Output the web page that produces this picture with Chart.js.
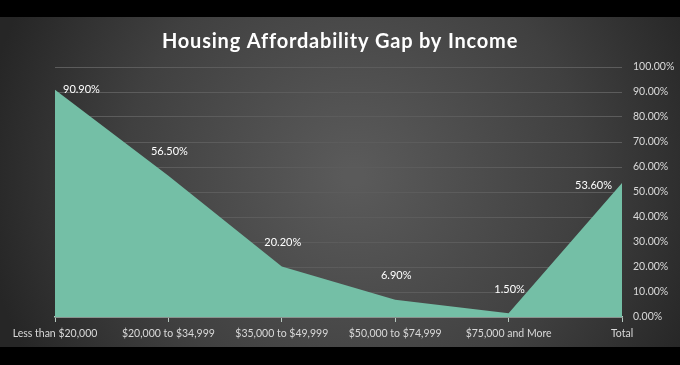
<!DOCTYPE html>
<html>
<head>
<meta charset="utf-8">
<script src="https://cdn.jsdelivr.net/npm/chart.js@4.4.1/dist/chart.umd.min.js"></script>
<style>
  html, body { margin: 0; padding: 0; background: #000; }
  #wrap { width: 680px; height: 365px; position: relative; }
</style>
</head>
<body>
<div id="wrap"><canvas id="c" width="680" height="365"></canvas></div>
<script>
const categories = ["Less than $20,000", "$20,000 to $34,999", "$35,000 to $49,999", "$50,000 to $74,999", "$75,000 and More", "Total"];
const gapValues = [90.9, 56.5, 20.2, 6.9, 1.5, 53.6];
const yTickMax = 100;
const yTickStep = 10;
const chartTitle = "Housing Affordability Gap by Income";

const bgPlugin = {
  id: 'bg',
  beforeDraw(chart) {
    const ctx = chart.ctx;
    const w = chart.width, h = chart.height;
    ctx.save();
    ctx.fillStyle = '#000';
    ctx.fillRect(0, 0, w, h);
    const g = ctx.createRadialGradient(w * 0.52, h * 0.48, 10, w * 0.52, h * 0.48, w * 0.55);
    g.addColorStop(0, '#5a5a5a');
    g.addColorStop(0.6, '#404040');
    g.addColorStop(1, '#262626');
    ctx.fillStyle = g;
    ctx.fillRect(0, 17, w, 330);
    // title
    ctx.font = 'bold 20px Lato, "Open Sans", sans-serif';
    ctx.fillStyle = '#ffffff';
    ctx.textBaseline = 'middle';
    ctx.textAlign = 'center';
    if ('letterSpacing' in ctx) ctx.letterSpacing = '0.8px';
    ctx.fillText(chartTitle, 340, 42);
    if ('letterSpacing' in ctx) ctx.letterSpacing = '0px';
    ctx.restore();
  }
};

const labelPlugin = {
  id: 'vlabels',
  afterDatasetsDraw(chart) {
    const ctx = chart.ctx;
    const meta = chart.getDatasetMeta(0);
    const n = meta.data.length;
    ctx.save();
    ctx.font = '11px Lato, "Open Sans", sans-serif';
    ctx.fillStyle = '#ffffff';
    ctx.textBaseline = 'middle';
    meta.data.forEach((pt, i) => {
      const txt = gapValues[i].toFixed(2) + '%';
      let x = pt.x, y = pt.y;
      if (i === 0) { ctx.textAlign = 'left'; x += 8; }
      else if (i === n - 1) { ctx.textAlign = 'right'; x -= 10; y += 2; }
      else { ctx.textAlign = 'center'; y -= 24; x += 1; }
      ctx.fillText(txt, x, y);
    });
    ctx.restore();
  }
};

new Chart(document.getElementById('c'), {
  type: 'line',
  data: {
    labels: categories,
    datasets: [{
      data: gapValues,
      fill: 'origin',
      backgroundColor: '#74bfa6',
      borderColor: '#74bfa6',
      borderWidth: 0,
      pointRadius: 0,
      tension: 0
    }]
  },
  options: {
    responsive: false,
    animation: false,
    layout: { padding: { top: 67, bottom: 18, left: 55, right: 0 } },
    plugins: {
      legend: { display: false },
      tooltip: { enabled: false },
      title: { display: false }
    },
    scales: {
      x: {
        offset: false,
        grid: { drawOnChartArea: false, drawTicks: true, tickLength: 5, tickColor: '#b8c8c0', lineWidth: 1 },
        border: { display: true, color: '#b8c8c0', width: 1.5 },
        ticks: { color: '#d9d9d9', font: { family: 'Lato, sans-serif', size: 10.5 }, padding: 5, maxRotation: 0, autoSkip: false },
        afterFit(scale) { scale.height = 30; }
      },
      y: {
        position: 'right',
        min: 0,
        max: yTickMax,
        grid: { color: '#5c5c5c', lineWidth: 1, drawTicks: false },
        border: { display: false },
        ticks: {
          stepSize: yTickStep,
          color: '#d9d9d9',
          font: { family: 'Lato, sans-serif', size: 10.5 },
          padding: 11,
          callback: v => v.toFixed(2) + '%'
        },
        afterFit(scale) { scale.width = 58; }
      }
    }
  },
  plugins: [bgPlugin, labelPlugin]
});
</script>
</body>
</html>
